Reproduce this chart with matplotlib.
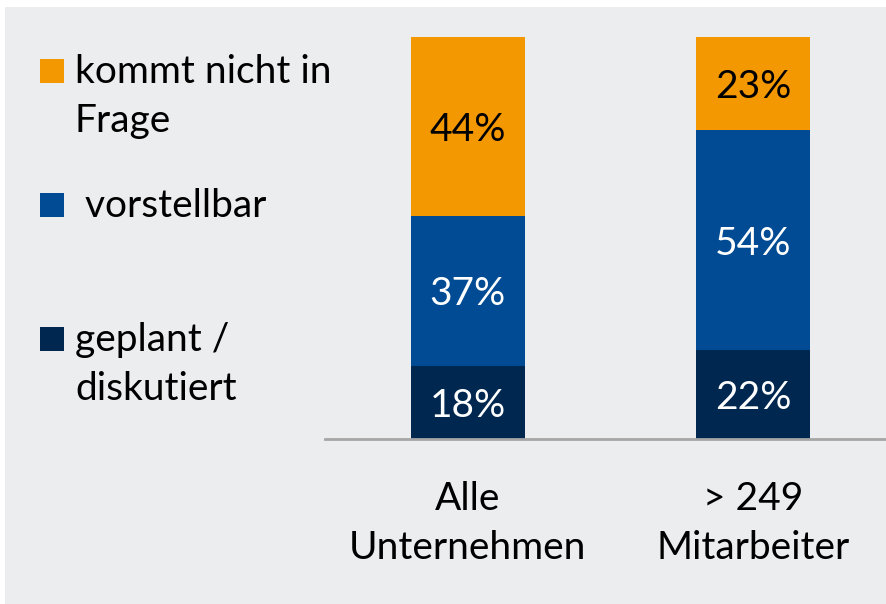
import matplotlib
matplotlib.use("Agg")
import matplotlib.pyplot as plt
from matplotlib.patches import Rectangle
import numpy as np

categories = ["Alle\nUnternehmen", "> 249\nMitarbeiter"]
series_names = ["geplant /\ndiskutiert", " vorstellbar", "kommt nicht in\nFrage"]
geplant = [18, 22]
vorstellbar = [37, 54]
kommt_nicht = [44, 23]

colors = ["#00274F", "#004B93", "#F39800"]
text_colors = ["white", "white", "black"]
bg = "#ECEDEF"

plt.rcParams['font.family'] = ['Lato', 'DejaVu Sans']
FS = 28
LS = 1.45

W, H = 886, 604
fig = plt.figure(figsize=(W / 100, H / 100), dpi=100)
fig.patch.set_facecolor("white")

# gray panel
fig.patches.append(Rectangle((5 / W, 0), 1 - 5 / W, (H - 7) / H,
                             transform=fig.transFigure, facecolor=bg,
                             edgecolor="none", zorder=-10))

left, right = 325 / W, 1.0
bottom = (H - 439) / H
top = (H - 33) / H
ax = fig.add_axes([left, bottom, right - left, top - bottom])
ax.set_facecolor("none")
ax.set_zorder(1)

x = np.arange(len(categories))
width = 0.4
series = [geplant, vorstellbar, kommt_nicht]
base = np.zeros(len(categories))
for vals, c, tc in zip(series, colors, text_colors):
    vals = np.array(vals, dtype=float)
    ax.bar(x, vals, width, bottom=base, color=c, edgecolor="none", zorder=2)
    for xi, b, v in zip(x, base, vals):
        ax.text(xi, b + v / 2, f"{int(v)}%", ha="center", va="center_baseline",
                color=tc, fontsize=FS, zorder=3)
    base += vals

ax.set_xlim(-0.5, 1.466)
ax.set_ylim(0, 100)
for s in ["top", "right", "left"]:
    ax.spines[s].set_visible(False)
ax.spines["bottom"].set_color("#A6A6A6")
ax.spines["bottom"].set_linewidth(2)
ax.set_yticks([])
ax.set_xticks(x)
ax.set_xticklabels(categories, fontsize=FS, linespacing=LS)
ax.tick_params(axis="x", length=0, pad=30)

# legend (manual layout)
legend_items = [
    (series_names[2], colors[2], 59),
    (series_names[1], colors[1], 193),
    (series_names[0], colors[0], 327),
]
for label, c, ytop in legend_items:
    fig.patches.append(Rectangle((40 / W, (H - ytop - 24) / H), 24 / W, 24 / H,
                                 transform=fig.transFigure, facecolor=c,
                                 edgecolor="none", zorder=3))
    fig.text(75 / W, (H - ytop + 5) / H, label, ha="left", va="top",
             fontsize=FS, linespacing=LS, color="black")

fig.savefig("out.png", dpi=100, facecolor=fig.get_facecolor())
